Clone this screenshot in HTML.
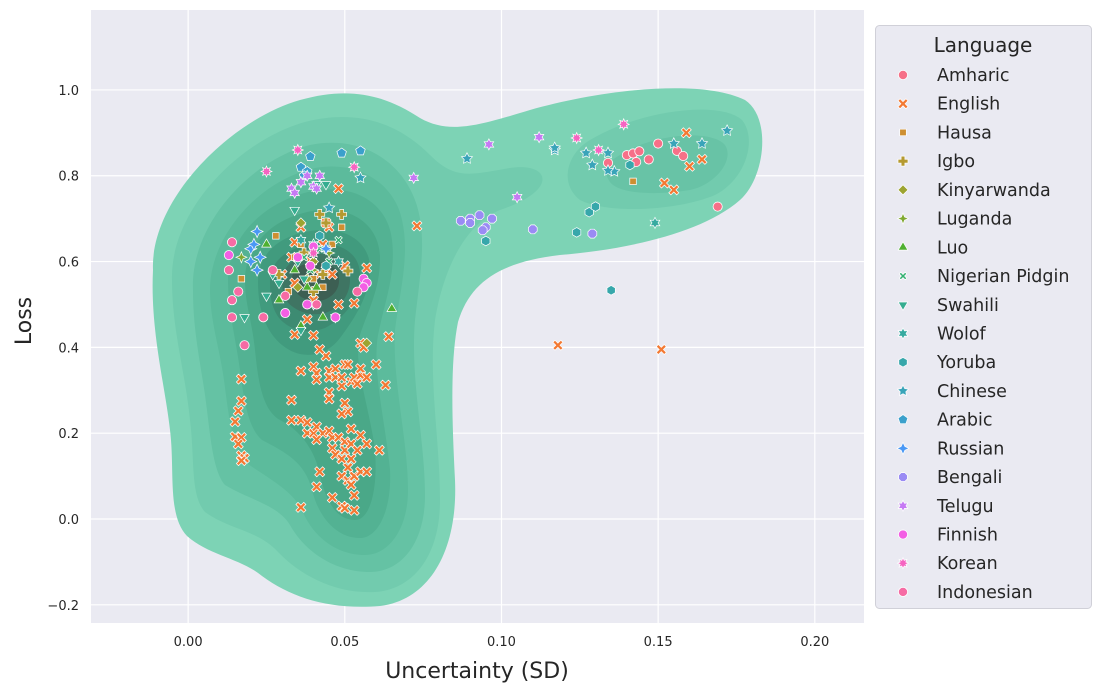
<!DOCTYPE html>
<html><head><meta charset="utf-8"><style>
body{margin:0;background:#fff;font-family:"DejaVu Sans","Liberation Sans",sans-serif;}
svg text{font-family:"DejaVu Sans","Liberation Sans",sans-serif;}
</style></head><body>
<svg id="chart" width="1102" height="693" viewBox="0 0 1102 693" xmlns="http://www.w3.org/2000/svg">
<rect x="91" y="10" width="773" height="613" fill="#eaeaf2"/>
<g id="grid"></g>
<g id="kde"></g>
<g id="points"></g>
<g id="axes"></g>
<g id="legend"></g>
</svg>
<script>
const xTicks=[0,0.05,0.10,0.15,0.20];
const xTickLabels=["0.00","0.05","0.10","0.15","0.20"];
const yTicks=[-0.2,0,0.2,0.4,0.6,0.8,1.0];
const yTickLabels=["\u22120.2","0.0","0.2","0.4","0.6","0.8","1.0"];
const languages=["Amharic","English","Hausa","Igbo","Kinyarwanda","Luganda","Luo","Nigerian Pidgin","Swahili","Wolof","Yoruba","Chinese","Arabic","Russian","Bengali","Telugu","Finnish","Korean","Indonesian"];
const colors=["#f67088","#f37933","#ce8f31","#b59a31","#9da431","#80a931","#4fb031","#33b071","#35ad90","#36aaa0","#37a7ab","#39a4b9","#3ba0cc","#4a98f5","#9a8bf4","#c67af4","#f35fe4","#f564c1","#f66ba4"];
const shapes=["circle","X","square","plus","diamond","plus4","tri","xs","trid","star6","hex","star5","pent","star4","oct","star6","circle","star8","circle"];
const amharic=[[0.134,0.83],[0.140,0.848],[0.142,0.852],[0.144,0.857],[0.147,0.838],[0.150,0.875],[0.143,0.832],[0.156,0.858],[0.158,0.846],[0.169,0.728]];
const english=[[0.017,0.326],[0.017,0.275],[0.016,0.252],[0.015,0.227],[0.015,0.192],[0.017,0.190],[0.016,0.175],[0.017,0.148],[0.018,0.142],[0.017,0.136],[0.033,0.23],[0.036,0.23],[0.033,0.277],[0.036,0.345],[0.040,0.355],[0.041,0.34],[0.041,0.325],[0.044,0.38],[0.042,0.395],[0.045,0.345],[0.045,0.33],[0.045,0.295],[0.045,0.28],[0.047,0.35],[0.047,0.33],[0.049,0.31],[0.049,0.33],[0.050,0.36],[0.051,0.36],[0.052,0.32],[0.053,0.33],[0.054,0.315],[0.055,0.335],[0.055,0.35],[0.057,0.33],[0.060,0.36],[0.063,0.312],[0.050,0.27],[0.051,0.25],[0.049,0.245],[0.038,0.225],[0.038,0.2],[0.040,0.2],[0.041,0.215],[0.043,0.2],[0.041,0.185],[0.045,0.205],[0.046,0.19],[0.048,0.19],[0.046,0.165],[0.047,0.15],[0.050,0.18],[0.050,0.16],[0.052,0.21],[0.052,0.175],[0.054,0.16],[0.055,0.195],[0.057,0.175],[0.061,0.16],[0.051,0.12],[0.049,0.14],[0.052,0.14],[0.049,0.1],[0.051,0.09],[0.052,0.08],[0.053,0.1],[0.055,0.11],[0.057,0.11],[0.042,0.11],[0.053,0.055],[0.046,0.05],[0.049,0.03],[0.050,0.025],[0.053,0.02],[0.041,0.075],[0.036,0.027],[0.034,0.43],[0.040,0.428],[0.038,0.465],[0.040,0.51],[0.048,0.50],[0.050,0.59],[0.055,0.41],[0.056,0.40],[0.057,0.585],[0.064,0.425],[0.053,0.503],[0.044,0.58],[0.042,0.57],[0.039,0.6],[0.043,0.64],[0.045,0.68],[0.044,0.69],[0.036,0.68],[0.034,0.645],[0.033,0.61],[0.039,0.6],[0.046,0.57],[0.048,0.77],[0.030,0.57],[0.034,0.55],[0.118,0.405],[0.151,0.395],[0.073,0.683],[0.152,0.783],[0.155,0.767],[0.159,0.9],[0.160,0.822],[0.164,0.838]];
const hausa=[[0.032,0.53],[0.028,0.66],[0.036,0.64],[0.040,0.60],[0.034,0.61],[0.046,0.64],[0.049,0.68],[0.040,0.56],[0.017,0.56],[0.142,0.787],[0.043,0.54]];
const igbo=[[0.042,0.71],[0.049,0.71],[0.051,0.578],[0.044,0.69],[0.037,0.62],[0.040,0.53],[0.043,0.57],[0.029,0.57]];
const kinyarwanda=[[0.036,0.69],[0.057,0.41],[0.040,0.60],[0.038,0.56],[0.035,0.54]];
const luganda=[[0.017,0.61],[0.040,0.58],[0.045,0.62]];
const luo=[[0.025,0.64],[0.034,0.58],[0.038,0.54],[0.029,0.51],[0.041,0.54],[0.043,0.47],[0.065,0.49],[0.036,0.45]];
const pidgin=[[0.037,0.61],[0.042,0.63],[0.039,0.58],[0.048,0.65],[0.045,0.60]];
const swahili=[[0.034,0.72],[0.035,0.60],[0.027,0.57],[0.029,0.55],[0.025,0.52],[0.018,0.47],[0.036,0.44],[0.047,0.47],[0.040,0.50],[0.041,0.78],[0.044,0.78],[0.037,0.56]];
const wolof=[[0.036,0.65],[0.040,0.64],[0.149,0.69],[0.044,0.63],[0.048,0.60]];
const yoruba=[[0.135,0.533],[0.124,0.668],[0.128,0.715],[0.130,0.728],[0.095,0.648],[0.042,0.66],[0.044,0.59],[0.141,0.825]];
const chinese=[[0.089,0.84],[0.117,0.86],[0.127,0.853],[0.134,0.853],[0.136,0.81],[0.134,0.812],[0.129,0.825],[0.155,0.875],[0.164,0.875],[0.172,0.905],[0.117,0.865],[0.055,0.795],[0.045,0.725]];
const arabic=[[0.036,0.82],[0.039,0.845],[0.049,0.853],[0.055,0.858],[0.038,0.81],[0.037,0.80]];
const russian=[[0.022,0.67],[0.020,0.63],[0.023,0.61],[0.020,0.60],[0.022,0.58],[0.044,0.63],[0.021,0.64]];
const bengali=[[0.087,0.695],[0.090,0.70],[0.093,0.708],[0.097,0.70],[0.095,0.68],[0.094,0.673],[0.090,0.69],[0.110,0.675],[0.129,0.665]];
const telugu=[[0.033,0.77],[0.036,0.785],[0.038,0.80],[0.040,0.775],[0.042,0.80],[0.041,0.77],[0.034,0.76],[0.112,0.89],[0.096,0.873],[0.105,0.75],[0.072,0.795]];
const finnish=[[0.013,0.615],[0.040,0.635],[0.039,0.59],[0.056,0.56],[0.057,0.55],[0.047,0.47],[0.056,0.54],[0.031,0.48],[0.038,0.50],[0.035,0.61]];
const korean=[[0.035,0.86],[0.025,0.81],[0.053,0.82],[0.139,0.92],[0.124,0.888],[0.131,0.86],[0.040,0.62]];
const indonesian=[[0.014,0.645],[0.013,0.58],[0.016,0.53],[0.014,0.51],[0.014,0.47],[0.024,0.47],[0.018,0.405],[0.054,0.53],[0.027,0.58],[0.041,0.50],[0.031,0.52]];
const series=[amharic,english,hausa,igbo,kinyarwanda,luganda,luo,pidgin,swahili,wolof,yoruba,chinese,arabic,russian,bengali,telugu,finnish,korean,indonesian];

const NS="http://www.w3.org/2000/svg";
const X0=91,X1=864,Y0=10,Y1=623;
const xMin=-0.031,xMax=0.2157,yMin=-0.2424,yMax=1.1863;
function sx(v){return X0+(v-xMin)/(xMax-xMin)*(X1-X0);}
function sy(v){return Y1-(v-yMin)/(yMax-yMin)*(Y1-Y0);}
function mk(tag,attrs,parent){const e=document.createElementNS(NS,tag);for(const k in attrs)e.setAttribute(k,attrs[k]);parent.appendChild(e);return e;}

const grid=document.getElementById('grid');
xTicks.forEach(t=>{const l=mk('line',{x1:sx(t),x2:sx(t),y1:Y0,y2:Y1,stroke:'#fff','stroke-width':1.2},grid);

});
yTicks.forEach(t=>{const l=mk('line',{x1:X0,x2:X1,y1:sy(t),y2:sy(t),stroke:'#fff','stroke-width':1.2},grid);

});

const kde=document.getElementById('kde');
mk('path',{d:"M153 270 C150 200 230 120 300 100 C350 86 385 95 420 118 C450 135 480 125 530 110 C600 90 700 78 745 100 C772 118 765 178 740 200 C700 235 620 250 560 255 C500 262 470 282 458 322 C450 362 452 420 455 480 C458 550 430 600 380 606 C330 610 292 598 262 576 C240 558 210 556 187 536 C167 515 175 470 170 430 C165 385 150 330 153 270 Z",fill:'#7dd3b5'},kde);
mk('path',{d:"M172 280 C170 210 240 140 305 122 C360 108 400 125 430 155 C455 180 470 175 510 168 C550 162 560 190 500 210 C470 222 445 260 435 320 C428 380 440 440 440 500 C440 560 410 590 375 592 C335 594 300 575 278 552 C258 530 230 530 205 512 C190 495 195 460 190 420 C185 370 172 330 172 280 Z",fill:'#72cbae'},kde);
mk('path',{d:"M590 140 C640 110 720 100 742 120 C758 140 745 180 715 195 C680 210 610 215 580 200 C560 185 565 155 590 140 Z",fill:'#72cbae'},kde);
mk('path',{d:"M620 155 C650 135 710 128 725 145 C735 160 715 185 690 190 C660 195 620 195 610 182 C603 172 605 163 620 155 Z",fill:'#68c3a6'},kde);
mk('path',{d:"M193 290 C190 225 250 160 310 145 C360 135 400 160 415 200 C428 235 420 275 415 320 C410 380 425 440 425 495 C425 545 400 572 370 572 C335 572 305 552 290 525 C278 505 250 500 225 485 C212 470 210 430 205 395 C200 360 193 330 193 290 Z",fill:'#65c2a4'},kde);
mk('path',{d:"M210 290 C210 235 260 180 315 168 C360 160 395 185 402 220 C410 255 400 290 395 330 C392 380 408 440 408 490 C408 530 388 555 365 555 C335 555 312 535 302 510 C292 490 268 478 245 462 C232 448 228 410 224 380 C220 350 210 320 210 290 Z",fill:'#5cbb9c'},kde);
mk('path',{d:"M228 280 C228 235 268 198 318 190 C358 185 388 205 392 240 C396 275 385 300 378 335 C372 370 385 420 390 470 C392 510 378 538 360 538 C335 538 318 515 312 490 C305 462 285 452 262 440 C248 428 244 400 240 370 C236 340 228 310 228 280 Z",fill:'#53b293'},kde);
mk('path',{d:"M245 280 C245 242 278 214 320 210 C356 207 380 228 380 258 C380 290 368 310 360 335 C352 360 370 410 375 450 C378 490 370 520 355 520 C335 520 325 498 320 475 C315 450 300 430 280 420 C262 410 258 380 255 350 C252 320 245 305 245 280 Z",fill:'#4aa888'},kde);
mk('path',{d:"M258 282 C258 250 285 232 320 230 C350 228 370 245 370 268 C370 295 355 318 340 338 C325 358 300 360 282 345 C266 332 258 310 258 282 Z",fill:'#419b7e'},kde);
mk('path',{d:"M270 282 C270 258 292 245 320 244 C345 243 360 256 360 275 C360 298 345 318 325 328 C305 336 285 328 277 315 C271 305 270 295 270 282 Z",fill:'#3d8b72'},kde);
mk('path',{d:"M282 280 C282 264 300 254 320 254 C340 254 350 265 350 280 C350 298 336 312 320 314 C302 316 286 305 283 294 Z",fill:'#3f7563'},kde);
mk('path',{d:"M292 278 C293 267 305 262 318 262 C332 263 340 270 339 282 C338 294 326 302 314 301 C300 300 291 290 292 278 Z",fill:'#3d5f53'},kde);

function shapePath(s,cx,cy,r){
  function poly(n,rot,inner){const a=[];const m=inner?2*n:n;for(let i=0;i<m;i++){const rr=inner?(i%2?r*inner:r):r;const ang=rot+i*Math.PI*2/m;a.push([cx+rr*Math.sin(ang),cy-rr*Math.cos(ang)]);}return 'M'+a.map(p=>p[0].toFixed(1)+' '+p[1].toFixed(1)).join('L')+'Z';}
  switch(s){
    case 'square': return poly(4,Math.PI/4);
    case 'diamond': return poly(4,0);
    case 'tri': return poly(3,0);
    case 'trid': return poly(3,Math.PI);
    case 'pent': return poly(5,0);
    case 'hex': return poly(6,0);
    case 'oct': return poly(8,Math.PI/8);
    case 'star4': return poly(4,0,0.45);
    case 'star5': return poly(5,0,0.5);
    case 'star6': return poly(6,0,0.55);
    case 'star8': return poly(8,0,0.55);
    case 'plus4': return poly(4,0,0.4);
    case 'plus':{const a=r,b=r*0.38;return `M${cx-b} ${cy-a}H${cx+b}V${cy-b}H${cx+a}V${cy+b}H${cx+b}V${cy+a}H${cx-b}V${cy+b}H${cx-a}V${cy-b}H${cx-b}Z`;}
    case 'X': case 'xs':{const k=s==='xs'?0.85:1;const a=r*k,c=r*0.42*k;
      const P=[[0,-c],[a-c,-a],[a,-a+c],[c,0],[a,a-c],[a-c,a],[0,c],[-a+c,a],[-a,a-c],[-c,0],[-a,-a+c],[-a+c,-a]];
      return 'M'+P.map(p=>(cx+p[0]).toFixed(1)+' '+(cy+p[1]).toFixed(1)).join('L')+'Z';}
  }
  return null;
}
function drawMarker(parent,s,cx,cy,r,color){
  let e;
  if(s==='circle'){e=mk('circle',{cx:cx,cy:cy,r:r,fill:color,stroke:'#fff','stroke-width':0.8},parent);}
  else{e=mk('path',{d:shapePath(s,cx,cy,r),fill:color,stroke:'#fff','stroke-width':0.7},parent);}
  return e;
}
const sizes={circle:4.6,X:5,square:4.6,plus:5,diamond:5,plus4:5.5,tri:5.5,xs:4.4,trid:5.5,star6:5.5,hex:4.8,star5:5.8,pent:5,star4:6,oct:4.8,star8:5.5};
const pg=document.getElementById('points');
series.forEach((arr,i)=>{
  arr.forEach(p=>{
    const m=drawMarker(pg,shapes[i],sx(p[0]),sy(p[1]),sizes[shapes[i]],colors[i]);
    
    
  });
});

const ax=document.getElementById('axes');
xTicks.forEach((t,i)=>{const tx=mk('text',{x:sx(t),y:646,'text-anchor':'middle','font-size':13,fill:'#262626'},ax);tx.textContent=xTickLabels[i];

});
yTicks.forEach((t,i)=>{const tx=mk('text',{x:79,y:sy(t)+5,'text-anchor':'end','font-size':13,fill:'#262626'},ax);tx.textContent=yTickLabels[i];

});
const xt=mk('text',{x:477,y:678,'text-anchor':'middle','font-size':22,fill:'#262626'},ax);xt.textContent='Uncertainty (SD)';


const yt=mk('text',{x:0,y:0,'text-anchor':'middle','font-size':22,fill:'#262626',transform:'translate(31,321) rotate(-90)'},ax);yt.textContent='Loss';



const lg=document.getElementById('legend');
const box=mk('rect',{x:875.5,y:25.5,width:216,height:583,rx:4,fill:'#eaeaf2',stroke:'#d0d0d8'},lg);


const lt=mk('text',{x:983,y:52,'text-anchor':'middle','font-size':20,fill:'#262626'},lg);lt.textContent='Language';


languages.forEach((name,i)=>{
  const y=75+i*28.72;
  const g=mk('g',{},lg);
  
  
  drawMarker(g,shapes[i],903,y,sizes[shapes[i]],colors[i]);
  const t=mk('text',{x:937,y:y+6,'font-size':17.5,fill:'#262626'},g);t.textContent=name;
});
</script>
</body></html>
